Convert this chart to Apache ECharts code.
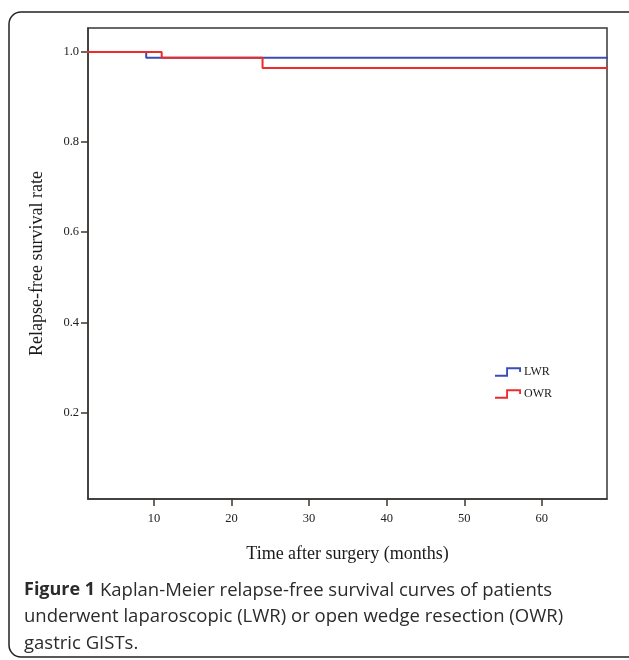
<!DOCTYPE html>
<html>
<head>
<meta charset="utf-8">
<script src="https://cdn.jsdelivr.net/npm/echarts@6/dist/echarts.min.js"></script>
<style>
  html, body { margin: 0; padding: 0; background: #fff; }
  #chart { width: 629px; height: 660px; }
</style>
</head>
<body>
<div id="chart"></div>
<script>
// 数据
var groups = ["LWR", "OWR"];
var lwrTime = [0, 9, 70];
var lwrRate = [1.0, 0.987, 0.987];
var owrTime = [0, 11, 24, 70];
var owrRate = [1.0, 0.987, 0.964, 0.964];
var xTicks = [10, 20, 30, 40, 50, 60];
var yTicks = [0.2, 0.4, 0.6, 0.8, 1.0];

function pairs(t, v) {
  return t.map(function(x, i) { return [x, v[i]]; });
}

var serif = "Liberation Serif";
var stepIcon = "path://M0,8 L12,8 L12,0 L28,0 L28,5 L26,5 L26,2 L14,2 L14,10 L0,10 Z";

var myChart = echarts.init(document.getElementById("chart"));
var option = {
  animation: false,
  color: ["#3b4cb8", "#ee2b2b"],
  grid: {
    left: 88,
    top: 28,
    right: 22,
    bottom: 161,
    show: true,
    borderColor: "#3a3633",
    borderWidth: 1.5
  },
  // 外框 + 图注
  graphic: [
    {
      type: "rect",
      shape: { x: 9, y: 12, width: 640, height: 645, r: 12 },
      style: { fill: "none", stroke: "#222", lineWidth: 1.5 },
      silent: true
    },
    {
      type: "text",
      left: 24,
      top: 577,
      style: {
        text: "{b|Figure 1} Kaplan-Meier relapse-free survival curves of patients\nunderwent laparoscopic (LWR) or open wedge resection (OWR)\ngastric GISTs.",
        font: "18.5px 'Open Sans'",
        fill: "#2b2b2b",
        lineHeight: 26.5,
        rich: {
          b: { fontFamily: "Open Sans", fontSize: 18, fontWeight: "bold", fill: "#2b2b2b" }
        }
      }
    }
  ],
  legend: {
    left: 490,
    top: 361,
    orient: "vertical",
    itemWidth: 26,
    itemHeight: 10,
    itemGap: 10,
    icon: stepIcon,
    textStyle: { fontFamily: serif, fontSize: 12, color: "#1a1a1a", padding: [0, 0, 0, -2] },
    data: groups
  },
  xAxis: {
    type: "value",
    min: 1.5,
    max: 68.4,
    name: "Time after surgery (months)",
    nameLocation: "middle",
    nameGap: 46,
    nameTextStyle: { fontFamily: serif, fontSize: 18, color: "#1a1a1a" },
    axisLine: { lineStyle: { color: "#3a3633", width: 1.5 } },
    axisTick: { length: 7, customValues: xTicks, lineStyle: { color: "#3a3633", width: 1.5 } },
    axisLabel: { customValues: xTicks, fontFamily: serif, fontSize: 12.5, color: "#222", margin: 13 },
    splitLine: { show: false }
  },
  yAxis: {
    type: "value",
    min: 0.008,
    max: 1.053,
    name: "Relapse-free survival rate",
    nameLocation: "middle",
    nameGap: 42,
    nameTextStyle: { fontFamily: serif, fontSize: 18, color: "#1a1a1a" },
    axisLine: { lineStyle: { color: "#3a3633", width: 1.5 } },
    axisTick: { length: 7, customValues: yTicks, lineStyle: { color: "#3a3633", width: 1.5 } },
    axisLabel: {
      customValues: yTicks,
      fontFamily: serif,
      fontSize: 12.5,
      color: "#222",
      margin: 9,
      formatter: function(v) { return v.toFixed(1); }
    },
    splitLine: { show: false }
  },
  series: [
    {
      name: groups[0],
      type: "line",
      step: "end",
      symbol: "none",
      clip: true,
      lineStyle: { width: 2 },
      data: pairs(lwrTime, lwrRate)
    },
    {
      name: groups[1],
      type: "line",
      step: "end",
      symbol: "none",
      clip: true,
      lineStyle: { width: 2 },
      data: pairs(owrTime, owrRate)
    }
  ]
};
myChart.setOption(option);
window.addEventListener("resize", function() {
  myChart.resize();
});
</script>
</body>
</html>
